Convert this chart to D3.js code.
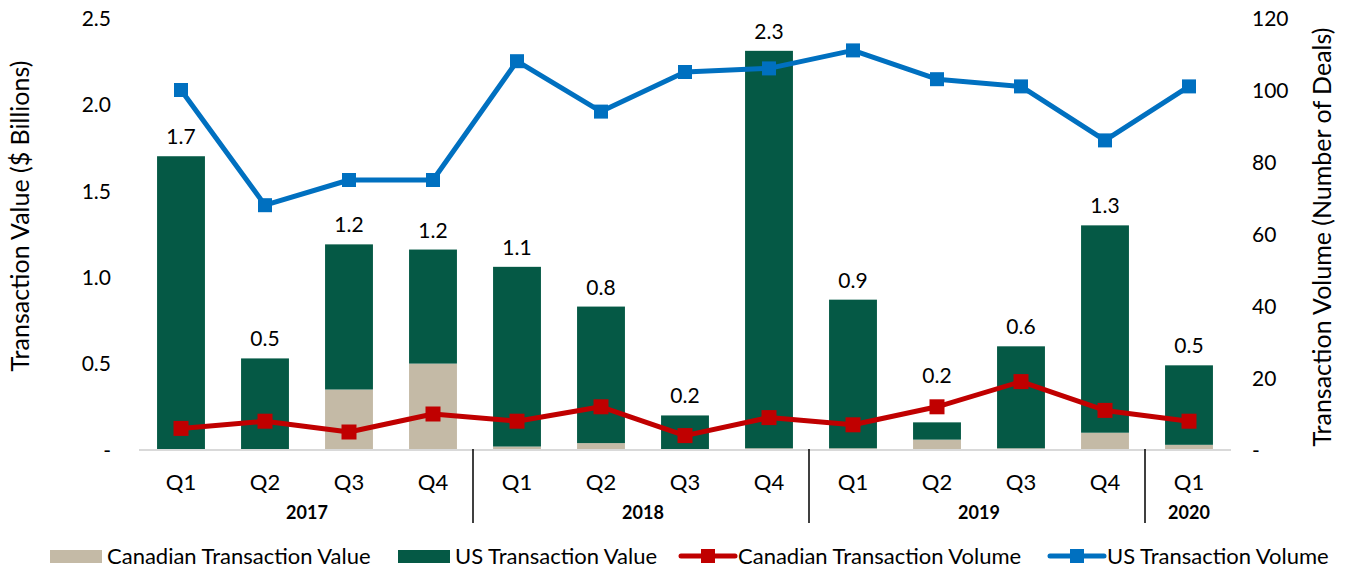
<!DOCTYPE html>
<html>
<head>
<meta charset="utf-8">
<script src="https://cdn.jsdelivr.net/npm/d3@7"></script>
<style>
    body { margin: 0; background: #fff; }
    text { font-family: Lato, "Open Sans", sans-serif; fill: #000; }
</style>
</head>
<body>
<svg id="canvas" width="1346" height="569"></svg>
<script>
// quarters and their years
const quarters = ["Q1", "Q2", "Q3", "Q4", "Q1", "Q2", "Q3", "Q4", "Q1", "Q2", "Q3", "Q4", "Q1"];
const years = ["2017", "2017", "2017", "2017", "2018", "2018", "2018", "2018", "2019", "2019", "2019", "2019", "2020"];

// transaction value, $ billions
const canadianValue = [0.0, 0.0, 0.35, 0.50, 0.02, 0.04, 0.0, 0.01, 0.01, 0.06, 0.01, 0.10, 0.03];
const usValue = [1.70, 0.53, 0.84, 0.66, 1.04, 0.79, 0.20, 2.30, 0.86, 0.10, 0.59, 1.20, 0.46];

// transaction volume, number of deals
const canadianVolume = [6, 8, 5, 10, 8, 12, 4, 9, 7, 12, 19, 11, 8];
const usVolume = [100, 68, 75, 75, 108, 94, 105, 106, 111, 103, 101, 86, 101];

const leftTicks = [0, 0.5, 1.0, 1.5, 2.0, 2.5];
const rightTicks = [0, 20, 40, 60, 80, 100, 120];

const COLORS = {
    canadianValue: "#C4BAA6",
    usValue: "#055945",
    canadianVolume: "#C00000",
    usVolume: "#0070C0"
};

const svg = d3.select("#canvas");
const keys = d3.range(quarters.length);

const x = d3.scaleBand().domain(keys).range([139, 1231]).paddingInner(0.43).paddingOuter(0.215);
const yValue = d3.scaleLinear().domain([0, 2.5]).range([450, 18]);
const yVolume = d3.scaleLinear().domain([0, 120]).range([450, 18]);

const total = i => canadianValue[i] + usValue[i];
const cx = i => x(i) + x.bandwidth() / 2;

/**
 * Left axis: value ticks, a dash for zero.
 */
function drawLeftAxis() {
    const axis = d3.axisLeft(yValue)
        .tickValues(leftTicks)
        .tickSize(0)
        .tickPadding(0)
        .tickFormat(d => d === 0 ? "-" : d3.format(".1f")(d));
    const g = svg.append("g").attr("transform", "translate(111,0)").call(axis);
    g.select(".domain").remove();
    g.selectAll("text").style("font-size", "21px").attr("dy", "0.35em");

    svg.append("text")
        .attr("transform", "translate(29,216) rotate(-90)")
        .attr("text-anchor", "middle")
        .style("font-size", "25px")
        .text("Transaction Value ($ Billions)");
}

/**
 * Right axis: deal count ticks.
 */
function drawRightAxis() {
    const axis = d3.axisRight(yVolume)
        .tickValues(rightTicks)
        .tickSize(0)
        .tickPadding(0)
        .tickFormat(d => d === 0 ? "-" : d);
    const g = svg.append("g").attr("transform", "translate(1252,0)").call(axis);
    g.select(".domain").remove();
    g.selectAll("text").style("font-size", "21px").attr("dy", "0.35em");

    svg.append("text")
        .attr("transform", "translate(1331,237) rotate(-90)")
        .attr("text-anchor", "middle")
        .style("font-size", "25px")
        .text("Transaction Volume (Number of Deals)");
}

/**
 * Stacked bars: Canadian at the bottom, US on top, total label above.
 */
function drawBars() {
    svg.selectAll(".cad-bar")
        .data(keys)
        .enter()
        .append("rect")
        .attr("class", "cad-bar")
        .attr("x", i => x(i))
        .attr("width", x.bandwidth())
        .attr("y", i => yValue(canadianValue[i]))
        .attr("height", i => yValue(0) - yValue(canadianValue[i]))
        .attr("fill", COLORS.canadianValue);

    svg.selectAll(".us-bar")
        .data(keys)
        .enter()
        .append("rect")
        .attr("class", "us-bar")
        .attr("x", i => x(i))
        .attr("width", x.bandwidth())
        .attr("y", i => yValue(total(i)))
        .attr("height", i => yValue(canadianValue[i]) - yValue(total(i)))
        .attr("fill", COLORS.usValue);
}

/**
 * Total labels above the bars, lifted clear of the Canadian volume marker.
 */
function drawBarLabels() {
    svg.selectAll(".bar-label")
        .data(keys)
        .enter()
        .append("text")
        .attr("class", "bar-label")
        .attr("x", cx)
        .attr("y", i => Math.min(yValue(total(i)), yVolume(canadianVolume[i]) - 12) - 12)
        .attr("text-anchor", "middle")
        .style("font-size", "21px")
        .text(i => (Math.round(total(i) * 10) / 10).toFixed(1));
}

/**
 * Category axis with quarter labels, year group labels and separators.
 */
function drawCategoryAxis() {
    svg.append("line")
        .attr("x1", 139).attr("x2", 1231)
        .attr("y1", yValue(0)).attr("y2", yValue(0))
        .attr("stroke", "#D9D9D9")
        .attr("stroke-width", 2);

    svg.selectAll(".quarter")
        .data(keys)
        .enter()
        .append("text")
        .attr("class", "quarter")
        .attr("x", cx)
        .attr("y", 490)
        .attr("text-anchor", "middle")
        .style("font-size", "22px")
        .text(i => quarters[i]);

    const groups = d3.groups(keys, i => years[i]);
    svg.selectAll(".year")
        .data(groups)
        .enter()
        .append("text")
        .attr("class", "year")
        .attr("x", g => (x(g[1][0]) + x(g[1][g[1].length - 1]) + x.bandwidth()) / 2)
        .attr("y", 519)
        .attr("text-anchor", "middle")
        .style("font-size", "18px")
        .style("font-weight", "bold")
        .text(g => g[0]);

    const step = x.step();
    svg.selectAll(".separator")
        .data(groups.slice(1))
        .enter()
        .append("line")
        .attr("class", "separator")
        .attr("x1", g => x(g[1][0]) - (step - x.bandwidth()) / 2 - 2)
        .attr("x2", g => x(g[1][0]) - (step - x.bandwidth()) / 2 - 2)
        .attr("y1", 449)
        .attr("y2", 523)
        .attr("stroke", "#000")
        .attr("stroke-width", 1.5);
}

/**
 * One volume line with square markers.
 */
function drawVolumeLine(values, color, size) {
    const line = d3.line()
        .x(cx)
        .y(i => yVolume(values[i]));

    svg.append("path")
        .datum(keys)
        .attr("d", line)
        .attr("fill", "none")
        .attr("stroke", color)
        .attr("stroke-width", 5)
        .attr("stroke-linejoin", "round");

    svg.append("g").selectAll("rect")
        .data(keys)
        .enter()
        .append("rect")
        .attr("x", i => cx(i) - size / 2)
        .attr("y", i => yVolume(values[i]) - size / 2)
        .attr("width", size)
        .attr("height", size)
        .attr("fill", color);
}

/**
 * Legend along the bottom.
 */
function drawLegend() {
    const y = 556;
    const items = [
        {label: "Canadian Transaction Value", color: COLORS.canadianValue, type: "rect", x: 50},
        {label: "US Transaction Value", color: COLORS.usValue, type: "rect", x: 398},
        {label: "Canadian Transaction Volume", color: COLORS.canadianVolume, type: "line", x: 681},
        {label: "US Transaction Volume", color: COLORS.usVolume, type: "line", x: 1050}
    ];
    const g = svg.append("g");
    items.forEach(item => {
        if (item.type === "rect") {
            g.append("rect")
                .attr("x", item.x).attr("y", y - 6)
                .attr("width", 52).attr("height", 13)
                .attr("fill", item.color);
        } else {
            g.append("line")
                .attr("x1", item.x).attr("x2", item.x + 54)
                .attr("y1", y).attr("y2", y)
                .attr("stroke", item.color)
                .attr("stroke-width", 5)
                .attr("stroke-linecap", "round");
            g.append("rect")
                .attr("x", item.x + 20).attr("y", y - 7)
                .attr("width", 14).attr("height", 14)
                .attr("fill", item.color);
        }
        g.append("text")
            .attr("x", item.x + 57)
            .attr("y", y)
            .attr("dy", "0.35em")
            .style("font-size", "22px")
            .text(item.label);
    });
}

drawBars();
drawCategoryAxis();
drawLeftAxis();
drawRightAxis();
drawVolumeLine(usVolume, COLORS.usVolume, 14);
drawVolumeLine(canadianVolume, COLORS.canadianVolume, 15);
drawBarLabels();
drawLegend();
</script>
</body>
</html>
